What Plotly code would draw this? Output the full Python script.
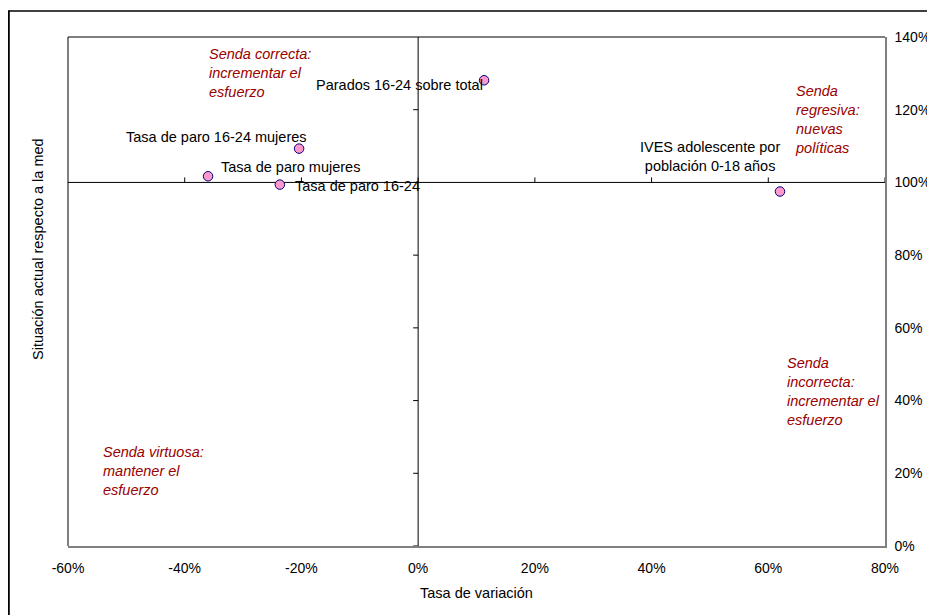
import plotly.graph_objects as go

# ---- data ----
names = ["Parados 16-24 sobre total", "Tasa de paro 16-24 mujeres", "Tasa de paro mujeres",
         "Tasa de paro 16-24", "IVES adolescente por<br>población 0-18 años"]
variacion = [0.113, -0.204, -0.360, -0.237, 0.620]
situacion = [1.281, 1.093, 1.017, 0.994, 0.975]

x_ticks = [-0.6, -0.4, -0.2, 0.0, 0.2, 0.4, 0.6, 0.8]
x_ticklabels = ["-60%", "-40%", "-20%", "0%", "20%", "40%", "60%", "80%"]
y_ticks = [0.0, 0.2, 0.4, 0.6, 0.8, 1.0, 1.2, 1.4]
y_ticklabels = ["0%", "20%", "40%", "60%", "80%", "100%", "120%", "140%"]

quad_texts = ["Senda correcta:<br>incrementar el<br>esfuerzo",
              "Senda<br>regresiva:<br>nuevas<br>políticas",
              "Senda<br>incorrecta:<br>incrementar el<br>esfuerzo",
              "Senda virtuosa:<br>mantener el<br>esfuerzo"]
quad_x = [-0.362, 0.643, 0.628, -0.544]
quad_y = [1.381, 1.280, 0.531, 0.286]

# label placement (pixel offsets)
lab_anchor = ["right", "right", "left", "left", "center"]
lab_xshift = [1, 10, 11, 13, -70]
lab_yshift = [-5, 12, 9, -1, 35]

FONT = "Liberation Sans, Arial, sans-serif"
FS = 14.5
DARKRED = "#990000"

fig = go.Figure()
fig.add_trace(go.Scatter(
    x=variacion, y=situacion, mode="markers",
    marker=dict(size=9.5, color="#FF99CC", line=dict(color="#000080", width=1)),
    hoverinfo="skip", showlegend=False, cliponaxis=False))

shapes = []
# crossing lines
shapes.append(dict(type="line", xref="paper", yref="y", x0=0, x1=1, y0=1.0, y1=1.0,
                   line=dict(color="black", width=1), layer="below"))
shapes.append(dict(type="line", xref="x", yref="paper", x0=0, x1=0, y0=0, y1=1,
                   line=dict(color="black", width=1), layer="below"))
# ticks on the crossing lines
for xt in x_ticks[1:]:
    shapes.append(dict(type="line", xref="x", yref="y", ysizemode="pixel", yanchor=1.0,
                       x0=xt, x1=xt, y0=0, y1=5, line=dict(color="black", width=1)))
for yt in y_ticks[:-1]:
    shapes.append(dict(type="line", xref="x", yref="y", xsizemode="pixel", xanchor=0.0,
                       y0=yt, y1=yt, x0=-5, x1=0, line=dict(color="black", width=1)))
# plot frame top/left (black)
shapes.append(dict(type="line", xref="paper", yref="paper", x0=0, x1=1, y0=1, y1=1,
                   line=dict(color="black", width=1)))
shapes.append(dict(type="line", xref="paper", yref="paper", x0=0, x1=0, y0=0, y1=1,
                   line=dict(color="black", width=1)))
# outer chart frame (top & left visible)
shapes.append(dict(type="line", xref="paper", yref="paper", x0=-0.073, x1=1.1, y0=1.051, y1=1.051,
                   line=dict(color="black", width=1.5)))
shapes.append(dict(type="line", xref="paper", yref="paper", x0=-0.0725, x1=-0.0725, y0=-0.2, y1=1.052,
                   line=dict(color="black", width=2)))

annotations = []
for n, xv, yv, a, xs, ys in zip(names, variacion, situacion, lab_anchor, lab_xshift, lab_yshift):
    annotations.append(dict(x=xv, y=yv, xref="x", yref="y", text=n, showarrow=False,
                            xanchor=a, yanchor="middle", xshift=xs, yshift=ys,
                            font=dict(family=FONT, size=FS, color="black"), align="center"))
for t, xv, yv in zip(quad_texts, quad_x, quad_y):
    annotations.append(dict(x=xv, y=yv, xref="x", yref="y", text="<i>" + t + "</i>", showarrow=False,
                            xanchor="left", yanchor="top", align="left",
                            font=dict(family=FONT, size=FS, color=DARKRED)))
annotations.append(dict(x=0.5, y=-0.0923, xref="paper", yref="paper", text="Tasa de variación",
                        showarrow=False, xanchor="center", yanchor="middle",
                        font=dict(family=FONT, size=FS, color="black")))
annotations.append(dict(x=-0.0367, y=0.5835, xref="paper", yref="paper",
                        text="Situación actual respecto a la med", textangle=-90,
                        showarrow=False, xanchor="center", yanchor="middle",
                        font=dict(family=FONT, size=FS, color="black")))

fig.update_layout(
    width=935, height=615,
    margin=dict(l=60, r=58, t=29, b=77, autoexpand=False),
    paper_bgcolor="white", plot_bgcolor="white",
    font=dict(family=FONT, size=FS, color="black"),
    xaxis=dict(range=[-0.6, 0.8], tickvals=x_ticks, ticktext=x_ticklabels, automargin=False,
               showgrid=False, zeroline=False, showline=True, linecolor="#808080", linewidth=1.5,
               ticks="", ticklabelstandoff=8, fixedrange=True, tickfont=dict(size=14)),
    yaxis=dict(range=[0.0, 1.4], tickvals=y_ticks, ticktext=y_ticklabels, side="right", automargin=False,
               showgrid=False, zeroline=False, showline=True, linecolor="#808080", linewidth=1.5,
               ticks="", ticklabelstandoff=5, fixedrange=True, tickfont=dict(size=14)),
    shapes=shapes, annotations=annotations, showlegend=False,
)

fig.write_html("out.html")
